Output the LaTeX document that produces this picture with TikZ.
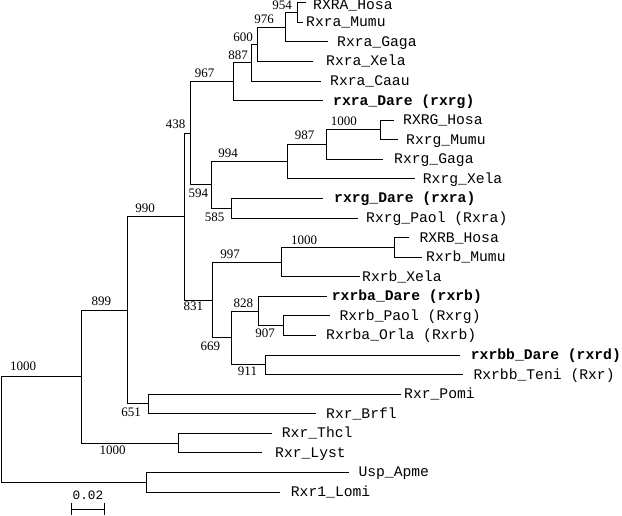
\documentclass[tikz,border=0pt]{standalone}
\usepackage{fontspec}
\setmainfont{Liberation Serif}
\setmonofont{Liberation Mono}
\usetikzlibrary{positioning}
\tikzset{%
	leaf/.style    = {anchor=base west, inner sep=0pt, yshift=-4.5pt, font=\fontsize{14.7}{17}\selectfont\ttfamily}, % Leaf name
	dare/.style    = {leaf, font=\fontsize{14.7}{17}\selectfont\ttfamily\bfseries}, % Zebrafish leaf
	boot/.style    = {inner sep=0pt, font=\fontsize{13}{15}\selectfont}, % Bootstrap value
	branch/.style  = {line width=1pt},
}

\begin{document}
\begin{tikzpicture}[x=1pt,y=-1pt]
	\useasboundingbox (0,0) rectangle (622,515);
	% internal nodes
	\coordinate (root) at (1.5,429.4);
	\coordinate (nA) at (81.7,376.6);
	\coordinate (n899) at (127.7,310.3);
	\coordinate (n990) at (184,216.6);
	\coordinate (n438) at (190,133.3);
	\coordinate (n967) at (233,81.6);
	\coordinate (n887) at (251,62.6);
	\coordinate (n600) at (257,44.3);
	\coordinate (n976) at (285,27.15);
	\coordinate (n954) at (297,12.5);
	\coordinate (n594) at (211,184.9);
	\coordinate (n994) at (287.3,161.7);
	\coordinate (n987) at (326,144.6);
	\coordinate (n1000g) at (380,129.9);
	\coordinate (n585) at (231,208.2);
	\coordinate (n831) at (212.3,300);
	\coordinate (n997) at (281,262);
	\coordinate (n1000b) at (394.3,247.3);
	\coordinate (n669) at (231,337.9);
	\coordinate (n828) at (258.5,311);
	\coordinate (n907) at (283.5,325.6);
	\coordinate (n911) at (265.5,364.8);
	\coordinate (n651) at (148.3,403.9);
	\coordinate (n1000t) at (178.3,443);
	\coordinate (nusp) at (146,482.2);

	% leaf tips and names
	\coordinate (t1) at (306,2.7);     \node [leaf,yshift=-2.5pt] (l1) at (313,2.7) {RXRA\_Hosa};
	\coordinate (t2) at (303,22.3);    \node [leaf] (l2) at (306,22.3) {Rxra\_Mumu};
	\coordinate (t3) at (328,41.8);    \node [leaf] (l3) at (337,41.8) {Rxra\_Gaga};
	\coordinate (t4) at (313,61.4);    \node [leaf] (l4) at (326,61.4) {Rxra\_Xela};
	\coordinate (t5) at (321,81.0);    \node [leaf] (l5) at (330,81.0) {Rxra\_Caau};
	\coordinate (t6) at (323,100.5);   \node [dare] (l6) at (333,100.5) {rxra\_Dare (rxrg)};
	\coordinate (t7) at (394.3,120.1); \node [leaf] (l7) at (403,120.1) {RXRG\_Hosa};
	\coordinate (t8) at (398.3,139.7); \node [leaf] (l8) at (406,139.7) {Rxrg\_Mumu};
	\coordinate (t9) at (382.7,159.3); \node [leaf] (l9) at (394,159.3) {Rxrg\_Gaga};
	\coordinate (t10) at (415,178.8);  \node [leaf] (l10) at (422.7,178.8) {Rxrg\_Xela};
	\coordinate (t11) at (323.3,198.4);\node [dare] (l11) at (334,198.4) {rxrg\_Dare (rxra)};
	\coordinate (t12) at (358.3,218.0);\node [leaf] (l12) at (366,218.0) {Rxrg\_Paol (Rxra)};
	\coordinate (t13) at (409.3,237.5);\node [leaf] (l13) at (419.3,237.5) {RXRB\_Hosa};
	\coordinate (t14) at (421.7,257.1);\node [leaf] (l14) at (426,257.1) {Rxrb\_Mumu};
	\coordinate (t15) at (360,276.7);  \node [leaf] (l15) at (362,276.7) {Rxrb\_Xela};
	\coordinate (t16) at (326.7,296.3);\node [dare] (l16) at (331.7,296.3) {rxrba\_Dare (rxrb)};
	\coordinate (t17) at (330,315.8);  \node [leaf] (l17) at (339.3,315.8) {Rxrb\_Paol (Rxrg)};
	\coordinate (t18) at (315.7,335.4);\node [leaf] (l18) at (326,335.4) {Rxrba\_Orla (Rxrb)};
	\coordinate (t19) at (460,355.0);  \node [dare] (l19) at (470.7,355.0) {rxrbb\_Dare (rxrd)};
	\coordinate (t20) at (462.7,374.5);\node [leaf] (l20) at (473.3,374.5) {Rxrbb\_Teni (Rxr)};
	\coordinate (t21) at (400.7,394.1);\node [leaf] (l21) at (404,394.1) {Rxr\_Pomi};
	\coordinate (t22) at (315.7,413.7);\node [leaf] (l22) at (326,413.7) {Rxr\_Brfl};
	\coordinate (t23) at (271.7,433.2);\node [leaf] (l23) at (281.7,433.2) {Rxr\_Thcl};
	\coordinate (t24) at (261.7,452.8);\node [leaf] (l24) at (275,452.8) {Rxr\_Lyst};
	\coordinate (t25) at (349,472.4);  \node [leaf] (l25) at (358.3,472.4) {Usp\_Apme};
	\coordinate (t26) at (280,492.0);  \node [leaf] (l26) at (290.7,492.0) {Rxr1\_Lomi};

	% bootstrap values
	\node [boot] (b954) at (282,5.5) {954};
	\node [boot] (b976) at (264,19.5) {976};
	\node [boot] (b600) at (243,37) {600};
	\node [boot] (b887) at (238,55) {887};
	\node [boot] (b967) at (204.5,73) {967};
	\node [boot] (b438) at (175.5,124.5) {438};
	\node [boot] (b1000g) at (343.8,121.7) {1000};
	\node [boot] (b987) at (304.7,135) {987};
	\node [boot] (b994) at (228,153.3) {994};
	\node [boot] (b594) at (198.3,193.3) {594};
	\node [boot] (b585) at (214.5,217.7) {585};
	\node [boot] (b990) at (145,208.3) {990};
	\node [boot] (b1000b) at (304.2,240) {1000};
	\node [boot] (b997) at (230,254) {997};
	\node [boot] (b831) at (193.3,305.8) {831};
	\node [boot] (b828) at (243.3,303.3) {828};
	\node [boot] (b907) at (265,333.3) {907};
	\node [boot] (b669) at (210.3,346.7) {669};
	\node [boot] (b911) at (247.5,371.7) {911};
	\node [boot] (b899) at (101.3,301.7) {899};
	\node [boot] (b651) at (131.2,412.7) {651};
	\node [boot] (b1000t) at (112.5,450.5) {1000};
	\node [boot] (b1000r) at (23,366.7) {1000};

	% branches
	\draw[branch] (root) |- (nA);
	\draw[branch] (root) |- (nusp);
	\draw[branch] (nA) |- (n899);
	\draw[branch] (nA) |- (n1000t);
	\draw[branch] (n899) |- (n990);
	\draw[branch] (n899) |- (n651);
	\draw[branch] (n990) |- (n438);
	\draw[branch] (n990) |- (n831);
	\draw[branch] (n438) |- (n967);
	\draw[branch] (n438) |- (n594);
	\draw[branch] (n967) |- (n887);
	\draw[branch] (n967) |- (t6);
	\draw[branch] (n887) |- (n600);
	\draw[branch] (n887) |- (t5);
	\draw[branch] (n600) |- (n976);
	\draw[branch] (n600) |- (t4);
	\draw[branch] (n976) |- (n954);
	\draw[branch] (n976) |- (t3);
	\draw[branch] (n954) |- (t1);
	\draw[branch] (n954) |- (t2);
	\draw[branch] (n594) |- (n994);
	\draw[branch] (n594) |- (n585);
	\draw[branch] (n994) |- (n987);
	\draw[branch] (n994) |- (t10);
	\draw[branch] (n987) |- (n1000g);
	\draw[branch] (n987) |- (t9);
	\draw[branch] (n1000g) |- (t7);
	\draw[branch] (n1000g) |- (t8);
	\draw[branch] (n585) |- (t11);
	\draw[branch] (n585) |- (t12);
	\draw[branch] (n831) |- (n997);
	\draw[branch] (n831) |- (n669);
	\draw[branch] (n997) |- (n1000b);
	\draw[branch] (n997) |- (t15);
	\draw[branch] (n1000b) |- (t13);
	\draw[branch] (n1000b) |- (t14);
	\draw[branch] (n669) |- (n828);
	\draw[branch] (n669) |- (n911);
	\draw[branch] (n828) |- (t16);
	\draw[branch] (n828) |- (n907);
	\draw[branch] (n907) |- (t17);
	\draw[branch] (n907) |- (t18);
	\draw[branch] (n911) |- (t19);
	\draw[branch] (n911) |- (t20);
	\draw[branch] (n651) |- (t21);
	\draw[branch] (n651) |- (t22);
	\draw[branch] (n1000t) |- (t23);
	\draw[branch] (n1000t) |- (t24);
	\draw[branch] (nusp) |- (t25);
	\draw[branch] (nusp) |- (t26);

	% scale bar
	\coordinate (sbl) at (71.7,509.3);
	\coordinate (sbr) at (104,509.3);
	\node [inner sep=0pt, font=\fontsize{12.8}{15}\selectfont\ttfamily] (sbtext) at (88,495) {0.02};
	\draw[branch] (sbl) -- (sbr);
	\draw[branch] (sbl) ++(0,-6) -- ++(0,11.7);
	\draw[branch] (sbr) ++(0,-6) -- ++(0,11.7);
\end{tikzpicture}
\end{document}
